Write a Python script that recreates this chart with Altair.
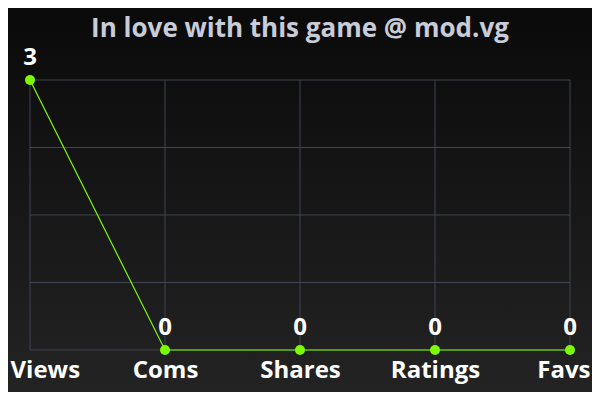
import altair as alt
import pandas as pd

categories = ["Views", "Coms", "Shares", "Ratings", "Favs"]
values = [3, 0, 0, 0, 0]
y_ticks = [0, 0.75, 1.5, 2.25, 3]

df = pd.DataFrame({"cat": categories, "val": values})
grid_df = pd.DataFrame({"g": y_ticks})

FONT = "Open Sans"
GREEN = "#7cfc00"
GRID = "#3f4651"

x_scale = alt.Scale(type="point", padding=0)
y_scale = alt.Scale(domain=[0, 3], nice=False)

x_enc = alt.X(
    "cat:N",
    sort=categories,
    scale=x_scale,
    axis=alt.Axis(
        title=None, labelAngle=0, ticks=False, domain=False, grid=False,
        labelFlush=True, labelFlushOffset=20, zindex=1,
        labelFont=FONT, labelFontSize=24, labelFontWeight="bold",
        labelColor="#ffffff", labelPadding=8,
    ),
)
y_enc = alt.Y("val:Q", scale=y_scale, axis=None)

bg = alt.Chart(alt.Data(values=[{"a": 1}])).mark_rect(
    fill={
        "gradient": "linear", "x1": 0, "y1": 0, "x2": 0, "y2": 1,
        "stops": [{"offset": 0, "color": "#0a0a0a"}, {"offset": 1, "color": "#232323"}],
    },
    clip=False,
).encode(
    x=alt.value(-22), x2=alt.value(562), y=alt.value(-72), y2=alt.value(312)
)

vgrid = alt.Chart(df).mark_rule(color=GRID, strokeWidth=1).encode(x=x_enc)
hgrid = alt.Chart(grid_df).mark_rule(color=GRID, strokeWidth=1).encode(
    y=alt.Y("g:Q", scale=y_scale, axis=None)
)

base = alt.Chart(df).encode(x=x_enc, y=y_enc)
line = base.mark_line(color=GREEN, strokeWidth=1.2)
pts = base.mark_circle(color=GREEN, size=100, opacity=1)
txt = base.mark_text(
    font=FONT, fontSize=24, fontWeight="bold", color="#ffffff",
    baseline="alphabetic", dy=-15,
).encode(text="val:Q")

chart = alt.layer(bg, vgrid, hgrid, line, pts, txt).properties(
    width=540, height=270,
    title=alt.TitleParams(
        "In love with this game @ mod.vg", font=FONT, fontSize=26,
        fontWeight="bold", color="#c8ccd8", anchor="middle", offset=0, dy=34,
    ),
    autosize=alt.AutoSizeParams(type="none"),
    padding={"left": 22, "top": 72, "right": 22, "bottom": 42},
).configure(background="#161616").configure_view(stroke=None)

chart.save("out.html", embed_options={"renderer": "svg", "actions": False})
